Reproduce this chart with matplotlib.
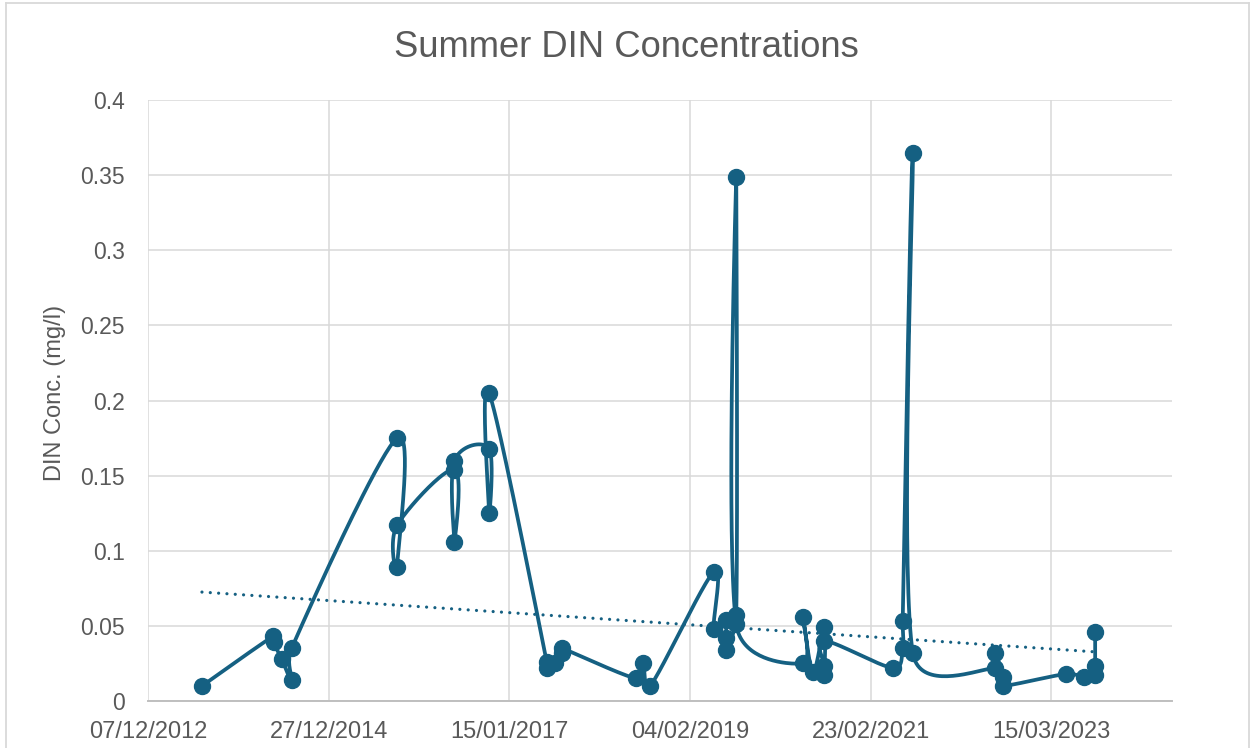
import numpy as np
import matplotlib
matplotlib.use("Agg")
import matplotlib.pyplot as plt
import matplotlib.dates as mdates
from matplotlib.lines import Line2D

# ---------------- data ----------------
sample_dates = [
    "2013-07-19", "2014-05-10", "2014-05-12", "2014-06-15", "2014-07-26", "2014-07-26",
    "2015-10-07", "2015-10-07", "2015-10-07",
    "2016-06-01", "2016-06-01", "2016-06-01",
    "2016-10-23", "2016-10-23", "2016-10-23",
    "2017-06-20", "2017-06-20", "2017-07-22", "2017-08-22", "2017-08-22",
    "2018-06-26", "2018-07-24", "2018-08-23",
    "2019-05-14", "2019-05-14", "2019-07-02", "2019-07-02", "2019-07-02",
    "2019-08-15", "2019-08-15", "2019-08-15",
    "2020-05-17", "2020-05-17", "2020-06-28", "2020-08-15", "2020-08-15", "2020-08-15", "2020-08-15",
    "2021-05-26", "2021-07-06", "2021-07-06", "2021-08-17", "2021-08-17",
    "2022-07-26", "2022-07-26", "2022-08-25", "2022-08-25",
    "2023-05-15", "2023-07-30", "2023-09-13", "2023-09-13", "2023-09-13",
]
din_values = [
    0.010, 0.043, 0.039, 0.028, 0.014, 0.035,
    0.175, 0.089, 0.117,
    0.154, 0.106, 0.160,
    0.168, 0.125, 0.205,
    0.026, 0.022, 0.025, 0.032, 0.035,
    0.015, 0.025, 0.010,
    0.086, 0.048, 0.054, 0.042, 0.034,
    0.057, 0.349, 0.051,
    0.025, 0.056, 0.019, 0.049, 0.017, 0.023, 0.040,
    0.022, 0.035, 0.053, 0.365, 0.032,
    0.022, 0.032, 0.016, 0.010,
    0.018, 0.016, 0.017, 0.023, 0.046,
]
# linear trendline values at the first and last sample dates
trend_dates = ["2013-07-19", "2023-09-13"]
trend_values = [0.0725, 0.0327]

tick_dates = ["2012-12-07", "2014-12-27", "2017-01-15", "2019-02-04", "2021-02-23", "2023-03-15"]
x_limits = ["2012-12-07", "2024-07-28"]
y_ticks = [0, 0.05, 0.1, 0.15, 0.2, 0.25, 0.3, 0.35, 0.4]
y_tick_labels = ["0", "0.05", "0.1", "0.15", "0.2", "0.25", "0.3", "0.35", "0.4"]
title_text = "Summer DIN Concentrations"
y_label_text = "DIN Conc. (mg/l)"

# ---------------- style ----------------
SERIES = "#156082"
GRID = "#d9d9d9"
TEXT = "#595959"
FONT = ["Liberation Sans", "DejaVu Sans"]
plt.rcParams["font.family"] = FONT

W, H = 1256, 748
fig = plt.figure(figsize=(W / 100, H / 100), dpi=100)
ax = fig.add_axes([148 / W, 47 / H, 1024 / W, 601 / H])

def to_num(ds):
    return mdates.date2num(np.array(ds, dtype="datetime64[D]"))

x = to_num(sample_dates)
y = np.array(din_values, dtype=float)

ax.set_xlim(*to_num(x_limits))
ax.set_ylim(0, 0.4)

# ---------------- Excel-like smoothed line (computed in display space) ----------------
def excel_smooth(xd, yd, n=40):
    P = ax.transData.transform(np.column_stack([xd, yd]))
    out = [P[0]]
    m = len(P)
    t = np.linspace(0, 1, n)[1:, None]
    for i in range(m - 1):
        p0 = P[i - 1] if i > 0 else P[i]
        p1 = P[i]
        p2 = P[i + 1]
        p3 = P[i + 2] if i + 2 < m else P[i + 1]
        d12 = np.hypot(*(p2 - p1))
        o1 = (p2 - p0) / 6.0
        o2 = (p3 - p1) / 6.0
        l1 = np.hypot(*o1)
        l2 = np.hypot(*o2)
        if l1 > d12 / 2 and l1 > 0:
            o1 = o1 * (d12 / 2) / l1
        if l2 > d12 / 2 and l2 > 0:
            o2 = o2 * (d12 / 2) / l2
        c1 = p1 + o1
        c2 = p2 - o2
        seg = ((1 - t) ** 3) * p1 + 3 * ((1 - t) ** 2) * t * c1 + 3 * (1 - t) * t ** 2 * c2 + t ** 3 * p2
        out.extend(seg)
    out = np.array(out)
    D = ax.transData.inverted().transform(out)
    return D[:, 0], D[:, 1]

sx, sy = excel_smooth(x, y)
ax.plot(sx, sy, color=SERIES, lw=2.7, solid_capstyle="round", solid_joinstyle="round", zorder=3)

# linear trendline
ax.plot(to_num(trend_dates), trend_values, color=SERIES, lw=2.3, linestyle=(0, (0.01, 2.6)),
        dash_capstyle="round", zorder=4)

ax.plot(x, y, linestyle="none", marker="o", markersize=11.5, color=SERIES, zorder=5)

# ---------------- axes ----------------
ax.set_xticks(to_num(tick_dates))
ax.xaxis.set_major_formatter(mdates.DateFormatter("%d/%m/%Y"))
ax.set_yticks(y_ticks)
ax.set_yticklabels(y_tick_labels)
ax.grid(True, color=GRID, lw=1.1)
ax.set_axisbelow(True)
for s in ["top", "right", "left"]:
    ax.spines[s].set_visible(False)
ax.spines["bottom"].set_color("#bfbfbf")
ax.spines["bottom"].set_linewidth(1.4)
ax.spines["bottom"].set_zorder(2)
ax.tick_params(axis="both", length=0, colors=TEXT)
ax.tick_params(axis="x", labelsize=17, pad=14.5)
ax.tick_params(axis="y", labelsize=16.5, pad=16.5)

fig.text(626 / W, 1 - 57 / H, title_text, ha="center", va="baseline", fontsize=26.2, color=TEXT)
fig.text(55 / W, 1 - 393 / H, y_label_text, ha="center", va="center", rotation=90,
         fontsize=17, color=TEXT)

# chart border
fig.add_artist(Line2D([6 / W, 6 / W], [0, 1 - 2.5 / H], color=GRID, lw=1.3))
fig.add_artist(Line2D([1249 / W, 1249 / W], [0, 1 - 2.5 / H], color=GRID, lw=1.3))
fig.add_artist(Line2D([6 / W, 1249 / W], [1 - 2.5 / H, 1 - 2.5 / H], color=GRID, lw=1.3))

fig.savefig("out.png", dpi=100)
